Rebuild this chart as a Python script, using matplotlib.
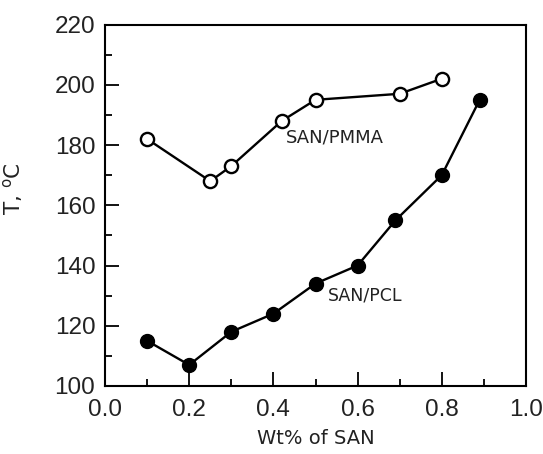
import matplotlib
matplotlib.use("Agg")
import matplotlib.pyplot as plt
from matplotlib.ticker import MultipleLocator

# SAN/PMMA blend (open circles)
pmma_x = [0.10, 0.25, 0.30, 0.42, 0.50, 0.70, 0.80]
pmma_t = [182, 168, 173, 188, 195, 197, 202]

# SAN/PCL blend (filled circles)
pcl_x = [0.10, 0.20, 0.30, 0.40, 0.50, 0.60, 0.69, 0.80, 0.89]
pcl_t = [115, 107, 118, 124, 134, 140, 155, 170, 195]

plt.rcParams['font.family'] = ['DejaVu Sans']

fig = plt.figure(figsize=(5.43, 4.54), dpi=100)
ax = fig.add_axes([105 / 543, 1 - 386 / 454, 421 / 543, 361.5 / 454])

ax.plot(pmma_x, pmma_t, color='black', lw=1.7, marker='o', ms=9.5,
        mfc='white', mec='black', mew=1.7, zorder=3)
ax.plot(pcl_x, pcl_t, color='black', lw=1.7, marker='o', ms=10,
        mfc='black', mec='black', zorder=3)

ax.text(0.43, 182.5, 'SAN/PMMA', fontsize=13, color='#222222', va='center')
ax.text(0.53, 130, 'SAN/PCL', fontsize=12.5, color='#222222', va='center')

ax.set_xlim(0, 1.0)
ax.set_ylim(100, 220)
ax.xaxis.set_major_locator(MultipleLocator(0.2))
ax.xaxis.set_minor_locator(MultipleLocator(0.1))
ax.yaxis.set_major_locator(MultipleLocator(20))
ax.yaxis.set_minor_locator(MultipleLocator(10))
ax.xaxis.set_major_formatter(plt.FormatStrFormatter('%.1f'))

ax.tick_params(which='both', direction='in', top=False, right=False,
               colors='black', labelcolor='#222222')
ax.tick_params(which='major', length=10, width=1.3)
ax.tick_params(which='minor', length=5, width=1.3)
ax.tick_params(axis='x', which='major', pad=9)
ax.tick_params(axis='y', which='major', pad=7)
for lbl in ax.get_xticklabels() + ax.get_yticklabels():
    lbl.set_fontfamily('Liberation Sans')
    lbl.set_fontsize(17.5)

for s in ax.spines.values():
    s.set_linewidth(1.5)

ax.set_xlabel('Wt% of SAN', fontsize=14, color='#222222', labelpad=6)
ax.set_ylabel('T, $^{\\mathregular{o}}$C', fontsize=15.5, color='#222222')
ax.yaxis.set_label_coords(-0.19, 0.545)

fig.savefig('out.png', dpi=100)
